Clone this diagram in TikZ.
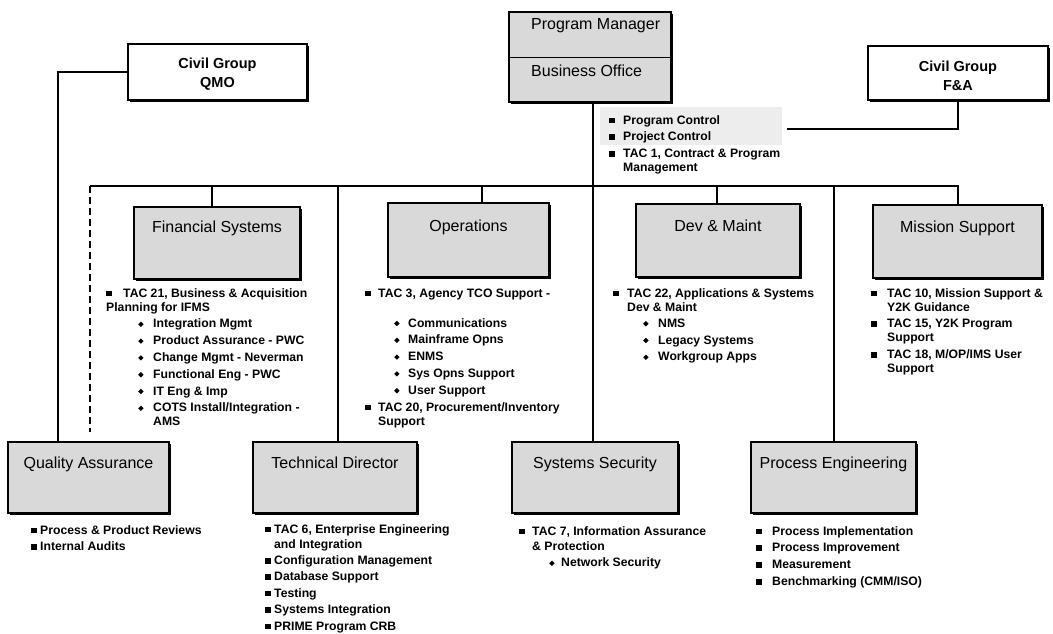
\documentclass[tikz,border=0pt]{standalone}
\usepackage{fontspec}
\setmainfont{Liberation Sans}
\usetikzlibrary{shadows}

\definecolor{stipple}{gray}{0.85}
\definecolor{pcshade}{gray}{0.93}

% square bullet in a box of the given width, diamond bullet after an indent
\newcommand{\sqbul}[1]{\makebox[#1][l]{\raisebox{0.9pt}{\rule{5.6pt}{5.6pt}}}}
\newcommand{\dmbul}[2]{\hspace*{#1}\makebox[#2][l]{\raisebox{0.8pt}{\rotatebox{45}{\rule{3.8pt}{3.8pt}}}}}

\tikzset{
  unitbox/.style={draw, line width=1.2pt, fill=stipple, inner sep=0pt,
    drop shadow={shadow xshift=2.2pt, shadow yshift=-2.2pt, fill=black, opacity=1}},
  groupbox/.style={unitbox, fill=white},
  grouptext/.style={inner sep=0pt, font=\fontsize{14.5}{19}\selectfont\bfseries, align=center},
  unittitle/.style={anchor=base, inner sep=0pt, font=\fontsize{16}{19}\selectfont},
  pmtitle/.style={anchor=base west, inner sep=0pt, font=\fontsize{16}{19}\selectfont},
  itemlist/.style={anchor=base west, inner sep=0pt, font=\fontsize{12.2}{14}\selectfont\bfseries},
  conn/.style={line width=1.3pt},
  dashconn/.style={line width=1.4pt, dash pattern=on 7pt off 4pt},
}

\begin{document}
\begin{tikzpicture}[x=1pt, y=-1pt]
\useasboundingbox (0,0) rectangle (1053,633);
\fill[white] (0,0) rectangle (1053,633);

% shaded band behind the business office duties
\fill[pcshade] (600,107) rectangle (782,145);

% --- top level -------------------------------------------------------
\node[groupbox, minimum width=179, minimum height=56] (qmo) at (217.5,72) {};
\node[grouptext] (qmo-t) at (217.5,74) {Civil Group\\QMO};
\node[unitbox, minimum width=162, minimum height=90] (pm) at (590,57) {};
\draw[line width=1.2pt] ([yshift=-46pt]pm.north west) -- ([yshift=-46pt]pm.north east);
\node[pmtitle] (pm-t) at (531,29.5) {Program Manager};
\node[pmtitle] (bo-t) at (531,76.5) {Business Office};
\node[groupbox, minimum width=180, minimum height=54] (fa) at (958,73) {};
\node[grouptext] (fa-t) at (958,75.5) {Civil Group\\F\&A};

% --- divisions -------------------------------------------------------
\node[unitbox, minimum width=166, minimum height=72] (fs) at (217,243) {};
\node[unitbox, minimum width=161, minimum height=74] (ops) at (468.5,240) {};
\node[unitbox, minimum width=164, minimum height=73] (dev) at (718,240.5) {};
\node[unitbox, minimum width=169, minimum height=73] (ms) at (957.5,241.5) {};
\node[unittitle] (fs-t) at (217,232) {Financial Systems};
\node[unittitle] (ops-t) at (468.5,231.5) {Operations};
\node[unittitle] (dev-t) at (718,231.5) {Dev \& Maint};
\node[unittitle] (ms-t) at (957.5,232) {Mission Support};

% --- staff functions -------------------------------------------------
\node[unitbox, minimum width=161, minimum height=71] (qa) at (88.5,477.5) {};
\node[unitbox, minimum width=164, minimum height=71] (td) at (335,477.5) {};
\node[unitbox, minimum width=166, minimum height=71] (ss) at (595,477.5) {};
\node[unitbox, minimum width=165, minimum height=71] (pe) at (833.5,477.5) {};
\node[unittitle] (qa-t) at (88.5,468) {Quality Assurance};
\node[unittitle] (td-t) at (335,468) {Technical Director};
\node[unittitle] (ss-t) at (595,468) {Systems Security};
\node[unittitle] (pe-t) at (833.5,468) {Process Engineering};

% --- connectors ------------------------------------------------------
\coordinate (busL) at (90,186);
\coordinate (busR) at (958,186);
\coordinate (jfs) at (212,186);
\coordinate (jtd) at (338,186);
\coordinate (jops) at (482,186);
\coordinate (jdev) at (717,186);
\coordinate (jpe) at (834,186);
\coordinate (pmx) at (593,102);
\coordinate (qmox) at (58,72);
\coordinate (facorner) at (958,129);
\coordinate (faend) at (787,129);
\coordinate (dashend) at (90,432);

\draw[conn] (busL) -- (busR) -- (busR |- ms.north);
\draw[conn] (jfs) -- (jfs |- fs.north);
\draw[conn] (jops) -- (jops |- ops.north);
\draw[conn] (jdev) -- (jdev |- dev.north);
\draw[conn] (jtd) -- (jtd |- td.north);
\draw[conn] (jpe) -- (jpe |- pe.north);
\draw[conn] (pmx) -- (pmx |- ss.north);
\draw[conn] (qmo.west) -- (qmox) -- (qmox |- qa.north);
\draw[conn] (fa.south) -- (facorner) -- (faend);
\draw[dashconn] (busL) -- (dashend);

% --- duty lists ------------------------------------------------------
\node[itemlist] (pc-l) at (609,124) {\begin{tabular}[t]{@{}l@{}}
\sqbul{14pt}Program Control\\[2.8pt]
\sqbul{14pt}Project Control\\[2.8pt]
\sqbul{14pt}TAC 1, Contract \& Program\\
\hspace*{14pt}Management
\end{tabular}};

\node[itemlist] (fs-l) at (106,297) {\begin{tabular}[t]{@{}l@{}}
\sqbul{17pt}TAC 21, Business \& Acquisition\\
Planning for IFMS\\[2.8pt]
\dmbul{32pt}{15pt}Integration Mgmt\\[2.8pt]
\dmbul{32pt}{15pt}Product Assurance - PWC\\[2.8pt]
\dmbul{32pt}{15pt}Change Mgmt - Neverman\\[2.8pt]
\dmbul{32pt}{15pt}Functional Eng - PWC\\[2.8pt]
\dmbul{32pt}{15pt}IT Eng \& Imp\\[2.8pt]
\dmbul{32pt}{15pt}COTS Install/Integration -\\
\hspace*{47pt}AMS
\end{tabular}};

\node[itemlist] (ops-l) at (365,297) {\begin{tabular}[t]{@{}l@{}}
\sqbul{13pt}TAC 3, Agency TCO Support -\\[16pt]
\dmbul{29pt}{14pt}Communications\\[2.8pt]
\dmbul{29pt}{14pt}Mainframe Opns\\[2.8pt]
\dmbul{29pt}{14pt}ENMS\\[2.8pt]
\dmbul{29pt}{14pt}Sys Opns Support\\[2.8pt]
\dmbul{29pt}{14pt}User Support\\[2.8pt]
\sqbul{13pt}TAC 20, Procurement/Inventory\\
\hspace*{13pt}Support
\end{tabular}};

\node[itemlist] (dev-l) at (613,297) {\begin{tabular}[t]{@{}l@{}}
\sqbul{14pt}TAC 22, Applications \& Systems\\
\hspace*{14pt}Dev \& Maint\\[2.2pt]
\dmbul{30pt}{15pt}NMS\\[2.8pt]
\dmbul{30pt}{15pt}Legacy Systems\\[2.8pt]
\dmbul{30pt}{15pt}Workgroup Apps
\end{tabular}};

\node[itemlist] (ms-l) at (871,297) {\begin{tabular}[t]{@{}l@{}}
\sqbul{16pt}TAC 10, Mission Support \&\\
\hspace*{16pt}Y2K Guidance\\[2.8pt]
\sqbul{16pt}TAC 15, Y2K Program\\
\hspace*{16pt}Support\\[2.8pt]
\sqbul{16pt}TAC 18, M/OP/IMS User\\
\hspace*{16pt}Support
\end{tabular}};

\node[itemlist] (qa-l) at (31,534) {\begin{tabular}[t]{@{}l@{}}
\sqbul{9pt}Process \& Product Reviews\\[2.8pt]
\sqbul{9pt}Internal Audits
\end{tabular}};

\node[itemlist] (td-l) at (265,533) {\begin{tabular}[t]{@{}l@{}}
\sqbul{9pt}TAC 6, Enterprise Engineering\\[1pt]
\hspace*{9pt}and Integration\\[2.4pt]
\sqbul{9pt}Configuration Management\\[2.4pt]
\sqbul{9pt}Database Support\\[2.4pt]
\sqbul{9pt}Testing\\[2.4pt]
\sqbul{9pt}Systems Integration\\[2.4pt]
\sqbul{9pt}PRIME Program CRB
\end{tabular}};

\node[itemlist] (ss-l) at (519,535) {\begin{tabular}[t]{@{}l@{}}
\sqbul{13pt}TAC 7, Information Assurance\\[1pt]
\hspace*{13pt}\& Protection\\[2.8pt]
\dmbul{30pt}{12pt}Network Security
\end{tabular}};

\node[itemlist] (pe-l) at (756,535) {\begin{tabular}[t]{@{}l@{}}
\sqbul{16pt}Process Implementation\\[2.8pt]
\sqbul{16pt}Process Improvement\\[2.8pt]
\sqbul{16pt}Measurement\\[2.8pt]
\sqbul{16pt}Benchmarking (CMM/ISO)
\end{tabular}};

\end{tikzpicture}
\end{document}
